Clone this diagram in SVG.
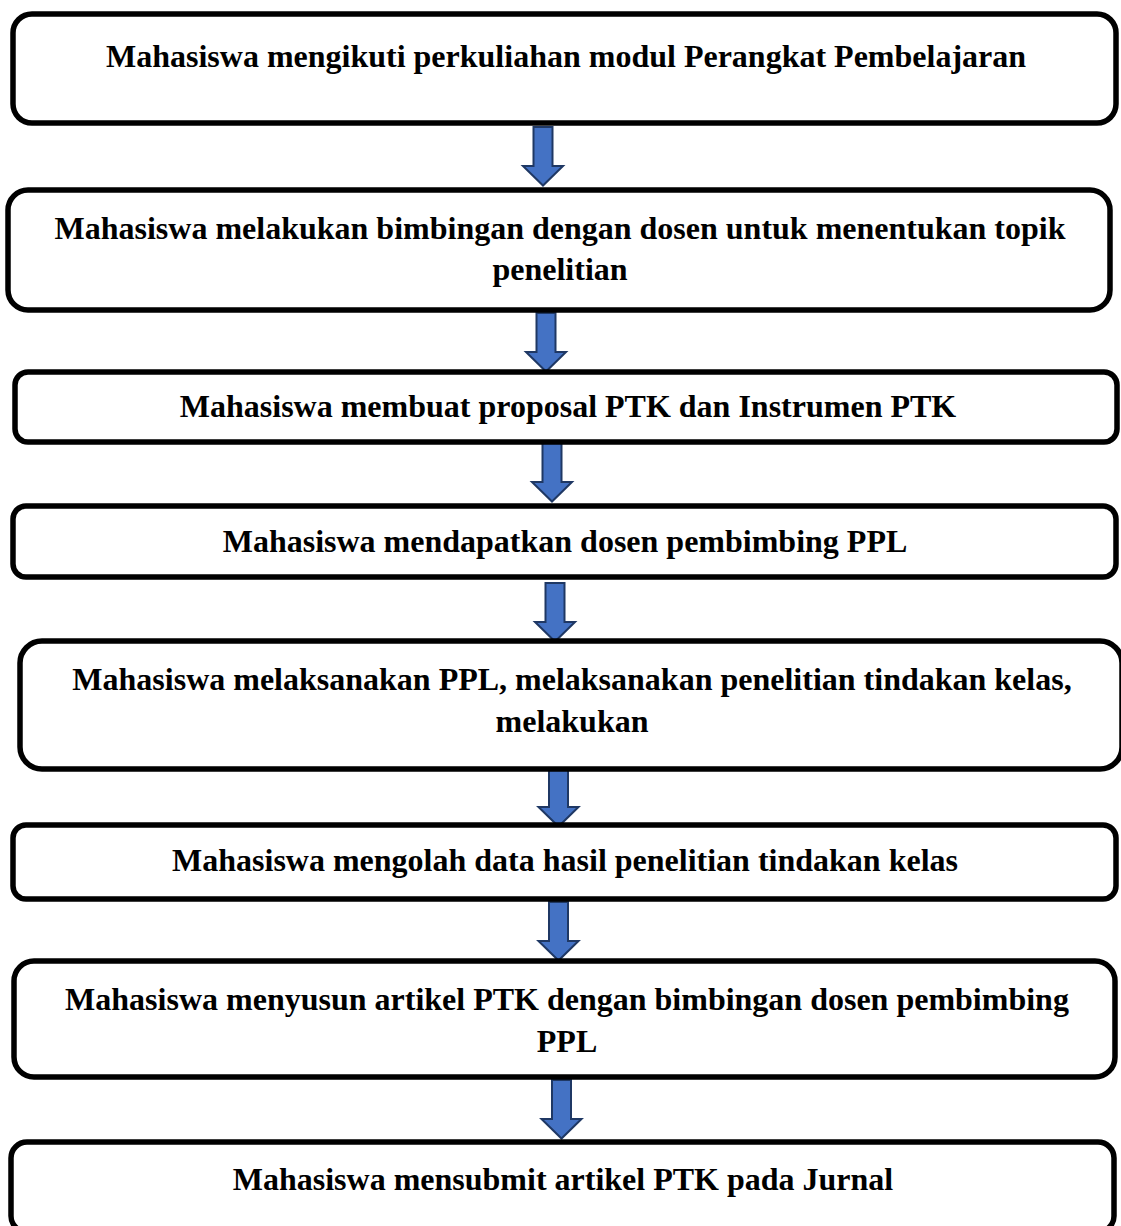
<svg xmlns="http://www.w3.org/2000/svg" width="1121" height="1226" viewBox="0 0 1121 1226">
<style>
.box{fill:#fff;stroke:#000;stroke-width:5.5}
.t{font-family:"Liberation Serif","Times New Roman",serif;font-weight:bold;font-size:32px;fill:#000;text-anchor:middle}
.arr{fill:#4472C4;stroke:#1F3864;stroke-width:2;stroke-linejoin:miter}
</style>
<defs>
<path id="dn" d="M -9.5 0 H 9.5 V 39 H 20 L 0 58.5 L -20 39 H -9.5 Z"/>
</defs>
<rect width="1121" height="1226" fill="#fff"/>
<g id="connectors">
<use href="#dn" class="arr" x="543" y="127"/>
<use href="#dn" class="arr" x="546" y="313"/>
<use href="#dn" class="arr" x="552" y="443"/>
<use href="#dn" class="arr" x="555" y="583"/>
<use href="#dn" class="arr" x="558.5" y="768"/>
<use href="#dn" class="arr" x="558.5" y="902"/>
<use href="#dn" class="arr" x="561.5" y="1080"/>
</g>
<g id="n1">
<rect class="box" x="13" y="14" width="1103" height="109" rx="19"/>
<text class="t" x="566" y="67">Mahasiswa mengikuti perkuliahan modul Perangkat Pembelajaran</text>
</g>
<g id="n2">
<rect class="box" x="8" y="190" width="1102" height="120" rx="20"/>
<text class="t" x="560" y="239">Mahasiswa melakukan bimbingan dengan dosen untuk menentukan topik</text>
<text class="t" x="560" y="280">penelitian</text>
</g>
<g id="n3">
<rect class="box" x="15" y="372" width="1102" height="70" rx="13"/>
<text class="t" x="568" y="417">Mahasiswa membuat proposal PTK dan Instrumen PTK</text>
</g>
<g id="n4">
<rect class="box" x="13" y="506" width="1103" height="71" rx="13"/>
<text class="t" x="565" y="552">Mahasiswa mendapatkan dosen pembimbing PPL</text>
</g>
<g id="n5">
<rect class="box" x="20" y="641" width="1102" height="128" rx="22"/>
<text class="t" x="572" y="690">Mahasiswa melaksanakan PPL, melaksanakan penelitian tindakan kelas,</text>
<text class="t" x="572" y="732">melakukan</text>
</g>
<g id="n6">
<rect class="box" x="13" y="825" width="1103" height="74" rx="13"/>
<text class="t" x="565" y="871">Mahasiswa mengolah data hasil penelitian tindakan kelas</text>
</g>
<g id="n7">
<rect class="box" x="14" y="961" width="1101" height="116" rx="20"/>
<text class="t" x="567" y="1010">Mahasiswa menyusun artikel PTK dengan bimbingan dosen pembimbing</text>
<text class="t" x="567" y="1052">PPL</text>
</g>
<g id="n8">
<rect class="box" x="11" y="1142" width="1103" height="90" rx="16"/>
<text class="t" x="563" y="1190">Mahasiswa mensubmit artikel PTK pada Jurnal</text>
</g>
</svg>
